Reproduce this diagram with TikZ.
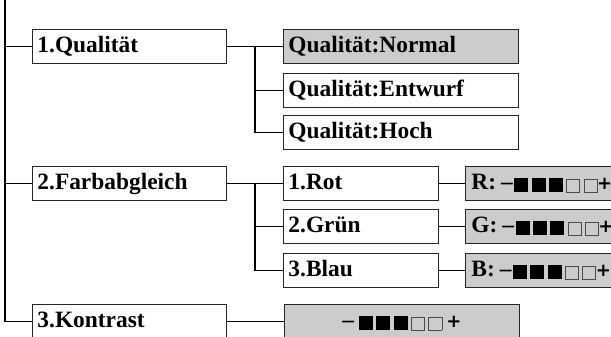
\documentclass[tikz,border=0pt]{standalone}
\usepackage{fontspec}
\setmainfont{Liberation Serif}
\newfontfamily\symf{DejaVu Sans}
\begin{document}
\begin{tikzpicture}[x=1pt,y=-1pt,
  box/.style={draw=black!85,line width=0.9pt,rectangle,anchor=north west,
    minimum height=34pt,inner xsep=5pt,inner ysep=0pt,align=left,
    font=\fontsize{23.4}{25}\selectfont\bfseries,text height=16pt,text depth=3pt},
  grey/.style={fill=black!20},
  wa/.style={minimum width=194pt,text width=184pt},
  wb/.style={minimum width=235pt,text width=225pt},
  wc/.style={minimum width=155pt,text width=145pt},
  wd/.style={minimum width=190pt,text width=180pt,inner xsep=6pt},
  conn/.style={draw=black,line width=1.1pt}]
\useasboundingbox (0,0) rectangle (611,337);
\clip (0,0) rectangle (611,337);
\newcommand{\bsq}{\rule[-2pt]{14pt}{14pt}}
\newcommand{\wsq}{\raisebox{-2pt}{\textcolor{black!70}{\setlength\fboxsep{0pt}\setlength\fboxrule{0.8pt}\fbox{\rule{0pt}{12.4pt}\hspace{12.4pt}}}}}
\newcommand{\sq}{\bsq\kern3.3pt\bsq\kern3.3pt\bsq\kern3.3pt\wsq\kern3.3pt\wsq}
\newcommand{\pl}{{\symf\bfseries\fontsize{18}{22}\selectfont+}}
% level 1
\node[box,wa] (q1) at (32,29) {1.Qualität};
\node[box,wa] (f2) at (32,166) {2.Farbabgleich};
\node[box,wa] (k3) at (32,304) {3.Kontrast};
% level 2
\node[box,wb,grey] (qn) at (283,29) {Qualität:Normal};
\node[box,wb] (qe) at (283,73) {Qualität:Entwurf};
\node[box,wb] (qh) at (283,115) {Qualität:Hoch};
\node[box,wc] (rot) at (283,166) {1.Rot};
\node[box,wc] (gr) at (283,209) {2.Grün};
\node[box,wc] (bl) at (283,253) {3.Blau};
\node[box,wb,grey,align=center] (ks) at (284,304) {–\kern5pt\sq\kern4pt\pl};
% level 3
\node[box,wd,grey] (r) at (465,166) {R:\kern5pt–\kern1.5pt\sq\kern-0.5pt\pl};
\node[box,wd,grey] (g) at (465,209) {G:\kern5pt–\kern1.5pt\sq\kern-0.5pt\pl};
\node[box,wd,grey] (b) at (465,253) {B:\kern5pt–\kern1.5pt\sq\kern-0.5pt\pl};
% trunk
\coordinate (top) at (5,0);
\coordinate (bend) at (top |- k3.west);
\draw[conn] (top) -- (bend) -- (k3.west);
\draw[conn] (top |- q1.west) -- (q1.west);
\draw[conn] (top |- f2.west) -- (f2.west);
% bus 1
\coordinate (b1) at (255,0);
\draw[conn] (q1.east) -- (qn.west);
\draw[conn] (b1 |- q1.east) -- (b1 |- qh.west) -- (qh.west);
\draw[conn] (b1 |- qe.west) -- (qe.west);
% bus 2
\draw[conn] (f2.east) -- (rot.west);
\draw[conn] (b1 |- f2.east) -- (b1 |- bl.west) -- (bl.west);
\draw[conn] (b1 |- gr.west) -- (gr.west);
\draw[conn] (rot.east) -- (r.west);
\draw[conn] (gr.east) -- (g.west);
\draw[conn] (bl.east) -- (b.west);
\draw[conn] (k3.east) -- (ks.west);
\end{tikzpicture}
\end{document}
